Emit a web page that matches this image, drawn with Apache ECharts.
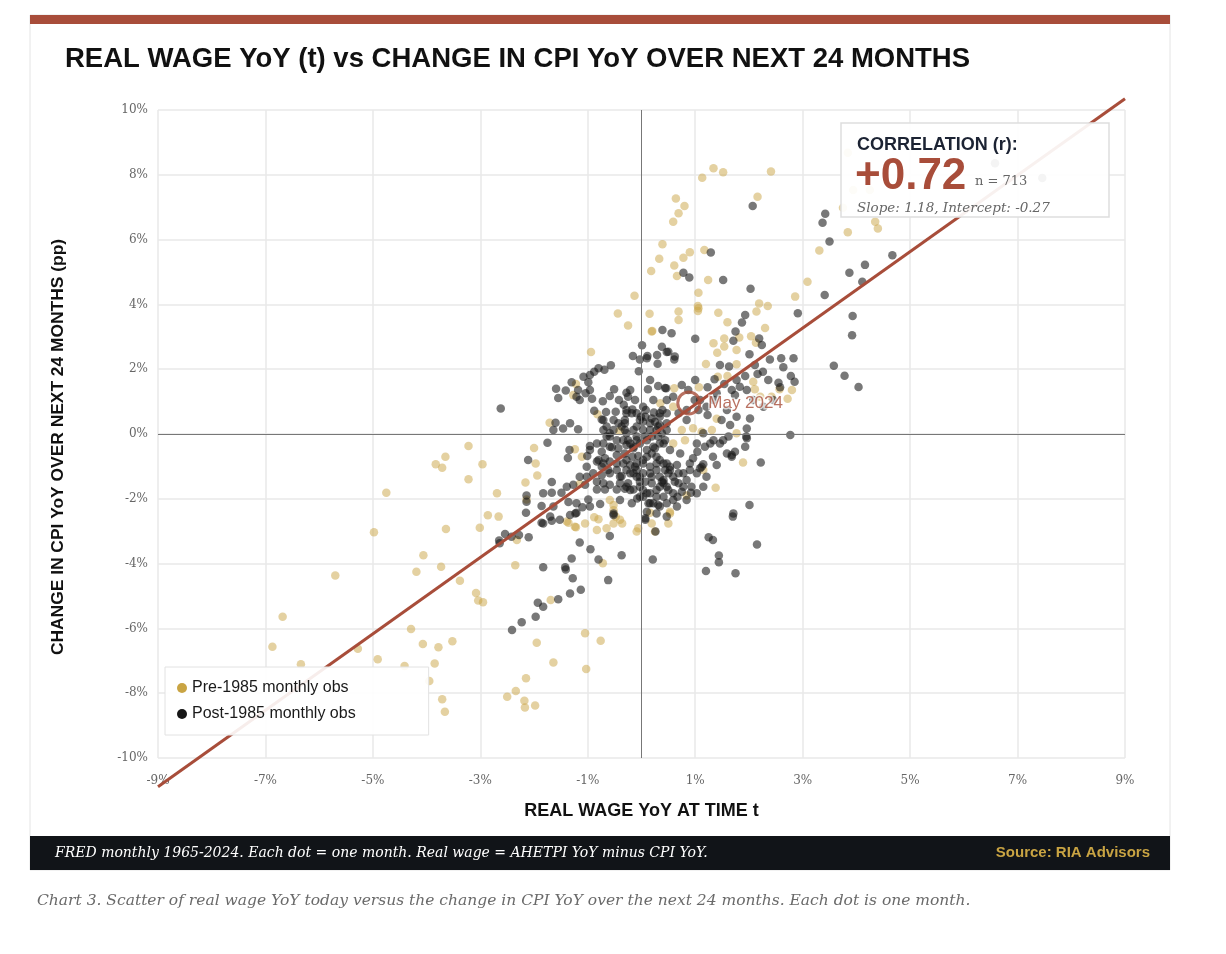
<!DOCTYPE html>
<html lang="en">

<head>
  <meta charset="UTF-8">
  <title>Real wage YoY vs change in CPI YoY</title>
  <script src="https://cdn.jsdelivr.net/npm/echarts@6/dist/echarts.min.js"></script>
  <style>
    html, body { margin: 0; padding: 0; background: #fff; }
    #main { width: 1226px; height: 954px; }
  </style>
</head>

<body>
  <div id="main"></div>
  <script type="text/javascript">
    // real wage YoY at t (x) and change in CPI YoY over next 24m (y)
    var preX = [-3.22, -3.65, -3.83, -3.71, -2.96, -3.22, -2.00, -1.97, -1.94, -2.16,
      -4.75, -2.69, -2.14, -2.86, -2.66, -3.01, -3.64, -4.98, -2.32, -4.06,
      -2.35, -4.19, -3.73, -3.38, -5.70, -3.08, -3.04, -2.95, -6.68, -4.29,
      -6.87, -1.95, -3.52, -4.07, -3.78, -5.28, -4.91, -3.85, -4.41, -6.34,
      -3.95, -2.15, -3.71, -3.66, -2.50, -2.34, -2.18, -2.17, -1.98, -1.71,
      -0.94, 0.19, 0.35, -1.22, -1.27, -1.24, -1.15, -0.59, -0.88, -0.80,
      -1.05, -1.22, -1.39, -0.83, -0.65, -0.52, -0.48, -0.40, -0.36, -0.52,
      -0.09, -0.06, 0.16, 0.19, 0.25, -0.72, -0.41, -1.11, -0.82, 0.15,
      -0.25, 0.20, 0.69, 0.69, 1.05, 1.05, 1.43, 1.60, 1.34, 1.54,
      1.54, 1.41, 1.77, 2.04, 2.13, 2.19, 2.14, 2.35, 2.30, 1.82,
      1.20, 1.77, 1.42, 1.60, 2.08, 2.11, 2.57, 2.80, 2.72, 2.42,
      2.21, 0.61, 0.59, 1.07, 1.40, 0.96, 1.12, 1.31, 0.75, 0.81,
      0.59, 1.77, 1.89, 1.38, 1.15, 0.53, 0.84, -1.05, -0.76, -1.64,
      -1.03, -1.69, -0.52, 0.50, 0.53, -1.24, -1.36, 1.34, 1.52, 1.13,
      2.41, 0.64, 0.80, 0.69, 0.59, 2.16, 0.39, 1.17, 0.90, 0.78,
      0.33, 0.61, 0.18, 0.66, 1.24, 1.06, -0.13, -0.44, 1.06, 2.86,
      3.09, 3.31, 3.84, 4.35, 4.40, 3.84, 4.25, 3.94, 3.75];
    var preY = [-0.37, -0.70, -0.93, -1.04, -0.93, -1.40, -0.43, -0.91, -1.28, -1.50,
      -1.81, -1.83, -2.02, -2.51, -2.55, -2.89, -2.93, -3.03, -3.27, -3.74,
      -4.05, -4.25, -4.10, -4.53, -4.37, -4.91, -5.14, -5.19, -5.64, -6.02,
      -6.57, -6.44, -6.40, -6.48, -6.58, -6.63, -6.95, -7.08, -7.16, -7.11,
      -7.62, -7.54, -8.19, -8.57, -8.11, -7.93, -8.23, -8.44, -8.38, 0.35,
      2.53, 3.16, 0.95, 1.54, 1.20, -0.47, -1.54, -2.04, -2.57, -2.63,
      -2.76, -2.88, -2.70, -2.96, -2.91, -2.19, -2.55, -2.65, -2.76, -2.76,
      -3.01, -2.91, -2.43, -2.76, -3.01, -3.99, 0.09, -0.70, 0.61, 3.71,
      3.35, 3.18, 3.78, 3.52, 3.95, 3.80, 3.74, 3.45, 2.80, 2.95,
      2.70, 2.51, 2.59, 3.02, 2.82, 4.03, 3.78, 3.95, 3.27, 2.98,
      2.16, 2.15, 1.77, 1.79, 1.61, 1.38, 1.38, 1.36, 1.09, 1.15,
      1.15, 1.41, 0.84, 1.44, 0.47, 0.18, 0.07, 0.12, 0.12, -0.19,
      -0.29, 0.02, -0.88, -1.66, -1.11, -2.45, -1.90, -6.15, -6.38, -7.05,
      -7.25, -5.12, -2.35, -2.76, -2.40, -2.86, -2.74, 8.20, 8.08, 7.91,
      8.10, 7.27, 7.04, 6.81, 6.55, 7.32, 5.86, 5.68, 5.61, 5.44,
      5.41, 5.20, 5.03, 4.88, 4.75, 4.36, 4.27, 3.72, 3.88, 4.24,
      4.70, 5.66, 6.23, 6.55, 6.34, 8.68, 7.53, 7.53, 6.98];

    var postX = [-2.62, 0.01, -0.16, -0.03, 0.11, 0.38, 0.29, 0.47, 0.30, -0.05,
      -0.57, -0.69, -0.80, -0.88, -0.96, -0.99, -1.30, -1.59, -1.55, -1.41,
      -1.15, -1.04, -0.92, -1.18, -0.51, -0.59, -0.72, -0.42, -0.21, -0.28,
      0.16, 0.12, 0.44, 0.39, -0.88, -0.66, -0.48, -0.33, -0.17, -0.01,
      0.08, 0.23, 0.03, 0.25, 0.34, 0.47, -1.60, -1.64, -1.46, -1.33,
      -1.18, -0.74, -0.65, -0.65, -0.52, -0.43, -0.31, -0.31, -0.15, -0.09,
      -0.25, -0.55, -0.74, -0.83, -0.96, -1.75, -1.34, -1.37, -1.01, -0.80,
      -0.68, -0.46, -0.31, -0.17, -0.06, 0.10, 0.25, 0.41, 0.28, 0.44,
      0.38, 0.19, -0.03, -0.15, -0.37, -0.59, -0.74, -1.02, -2.11, -1.67,
      -1.83, -1.67, -1.49, -1.39, -1.27, -1.05, -0.83, -0.68, -0.46, -0.31,
      -0.15, -2.14, -1.86, -1.64, -1.36, -1.21, -0.99, -0.77, -0.40, 0.03,
      0.16, 0.31, -2.15, -1.70, -1.52, -1.33, -1.21, -1.86, -1.67, -0.52,
      0.07, -2.54, -2.42, -2.10, -2.64, -1.15, -0.95, -0.59, -0.80, -0.37,
      0.21, -1.30, -1.83, -1.42, 1.93, 1.87, 1.75, 1.71, 2.19, 2.24,
      2.91, 1.00, 0.39, 0.56, 0.50, 0.61, 0.10, 0.31, 0.46, 0.75,
      0.87, 0.99, 0.84, 1.06, 1.23, 1.23, 1.36, 1.46, 1.63, 1.54,
      1.68, 1.83, 1.93, 2.01, 2.11, 2.26, 2.16, 2.39, 2.60, 2.64,
      2.83, 2.78, 2.85, 2.36, 2.55, 2.58, 1.74, 1.77, 1.59, 1.49,
      1.65, 1.96, 1.95, 1.93, 2.77, 2.22, 1.74, 1.59, 1.62, 1.46,
      1.34, 1.18, 1.04, 1.33, 1.40, 1.15, 0.96, 1.09, 0.90, 0.69,
      0.62, 0.53, 0.41, 0.19, 0.28, 0.16, 0.84, 0.93, 0.75, 0.59,
      0.41, 0.22, 0.92, 2.01, 1.71, 0.07, -0.03, -0.15, -0.28, -0.31,
      -0.18, -0.03, 0.16, 0.31, 0.47, 0.34, 0.03, -0.25, -0.12, 0.84,
      0.03, -0.12, -0.28, -0.21, -0.03, -0.03, -0.21, 0.10, 0.13, 0.34,
      0.59, 0.28, 1.70, 1.25, 1.33, 2.15, 1.44, 1.44, 1.20, 1.75,
      -0.62, -1.28, -1.41, -1.13, -1.33, -1.55, 0.26, 0.07, 0.10, 0.47,
      -0.52, -0.96, -1.10, -1.23, -0.08, 0.67, 0.69, 1.68, 1.96, 2.07,
      3.42, 3.37, 3.50, 1.29, 0.78, 0.89, 1.52, 2.03, 4.67, 4.16,
      3.87, 4.11, 3.41, 3.93, 3.92, 3.58, 3.78, 4.04, 0.62, -1.08,
      -1.21, -0.96, 2.02, -2.14, -1.83, -2.65, -2.28, -1.93, -1.83, -1.97,
      -2.23, -2.41, 6.58, 7.46,
      // dense core, second pass
      -0.71, -0.59, -0.46, -0.71, -0.59, -0.43, -0.28, -0.15, 0.10, 0.19,
      0.31, 0.44, 0.16, 0.28, 0.38, 0.03, -0.09, -0.37, -0.52, -0.28,
      -0.09, 0.07, 0.19, 0.34, 0.47, -0.83, -0.71, -0.59, -0.46, -0.34,
      -0.21, -0.09, 0.03, 0.16, 0.41, 0.50, 0.34, 0.19, 0.03, -0.09,
      -0.28, -0.46, -0.62, -0.74, -0.90, -1.02, -1.15, 0.41, 0.50, 0.28,
      0.16, 0.03, -0.25, -0.40, -0.59, -0.71, -0.83, -0.34, -0.21, -0.09,
      0.10, 0.22, 0.34, 0.53, 0.72, 0.28, 0.47, 0.66, 0.78, 1.03,
      1.21, 1.15, 1.03, 0.84, 0.66, 0.47, 0.28, -0.03, -0.18, -0.28,
      0.47, 0.34, 0.07, -0.28, 0.22, 0.47, 0.59, 0.69, 1.09, 1.21,
      1.34, 1.40, 1.00, 1.77, 1.96, 2.08, 2.27, 2.45, -0.71, -0.59,
      -0.96, -0.40, -0.09, 0.34, 0.53, 0.59, 0.78, 1.03, 1.15, 1.28,
      1.52, 1.68, 0.90, 1.12];
    var postY = [0.79, 2.74, 2.41, 2.30, 2.41, 2.69, 2.44, 2.53, 2.17, 1.94,
      2.12, 1.98, 2.03, 1.92, 1.82, 1.60, 1.60, 1.40, 1.11, 1.34,
      1.05, 1.26, 1.09, 1.36, 1.38, 1.17, 1.01, 1.05, 1.36, 1.27,
      1.67, 1.38, 1.42, 0.74, 0.72, 0.68, 0.69, 0.90, 0.76, 0.53,
      0.74, 0.66, 0.38, 0.38, 0.28, 0.12, 0.35, 0.12, 0.17, 0.33,
      0.15, 0.45, 0.23, -0.08, 0.12, 0.33, 0.12, 0.43, 0.12, -0.19,
      -0.19, -0.41, -0.55, -0.29, -0.37, -0.27, -0.49, -0.74, -0.68, -0.80,
      -0.75, -0.65, -0.60, -0.70, -0.68, -0.70, -0.44, -0.29, -0.91, -1.11,
      -1.47, -1.52, -1.47, -1.21, -1.30, -1.21, -1.01, -1.01, -0.80, -1.48,
      -1.83, -1.81, -1.81, -1.63, -1.57, -1.57, -1.71, -1.71, -1.71, -1.69,
      -1.71, -1.90, -2.22, -2.24, -2.10, -2.14, -2.02, -2.16, -2.04, -1.94,
      -2.14, -2.19, -2.43, -2.55, -2.65, -2.50, -2.43, -2.74, -2.68, -2.45,
      -2.65, -3.09, -3.17, -3.19, -3.37, -3.35, -3.56, -3.15, -3.87, -3.74,
      -3.87, -3.84, -4.11, -4.11, 3.67, 3.44, 3.16, 2.88, 2.95, 2.75,
      3.73, 2.94, 3.21, 3.11, 2.54, 2.30, 2.34, 1.48, 1.41, 1.51,
      1.36, 1.05, 0.74, 0.74, 0.59, 1.44, 1.69, 2.13, 2.08, 1.54,
      1.36, 1.46, 1.79, 2.46, 2.13, 1.92, 1.85, 2.30, 2.34, 2.06,
      2.34, 1.79, 1.61, 1.67, 1.58, 1.44, 1.20, 0.53, 0.74, 0.43,
      0.28, 0.17, -0.08, -0.39, -0.03, -0.88, -0.55, -0.60, -0.08, -0.29,
      -0.19, -0.39, -0.55, -0.70, -0.96, -0.93, -0.75, -1.06, -1.11, -1.21,
      -1.47, -1.11, -1.42, -0.60, -1.11, -1.21, -1.42, -1.63, -1.78, -1.83,
      -1.94, -2.14, -1.81, -2.19, -2.45, -0.08, -0.29, -0.44, 0.02, 0.33,
      0.64, 0.43, 0.33, 0.23, 0.33, 0.64, 0.84, 1.15, 1.05, 0.43,
      -0.80, -1.01, -0.80, -1.21, -1.32, -1.63, -1.73, -1.83, -2.14, -2.24,
      -2.04, -2.45, -2.55, -3.19, -3.27, -3.41, -3.75, -3.96, -4.23, -4.30,
      -4.51, -4.45, -4.18, -4.81, -4.92, -5.10, -3.01, -2.60, -2.40, -2.55,
      -2.50, -2.24, -2.26, -2.45, -1.99, -1.94, -1.52, -0.70, -0.13, 7.04,
      6.80, 6.52, 5.94, 5.60, 4.98, 4.83, 4.75, 4.48, 5.52, 5.22,
      4.98, 4.70, 4.29, 3.64, 3.05, 2.11, 1.80, 1.45, 2.39, 1.77,
      1.15, 1.36, 0.48, -2.09, -2.76, -3.29, -3.12, -5.21, -5.33, -5.64,
      -5.81, -6.05, 8.36, 7.90,
      // dense core, second pass
      0.12, -0.08, -0.19, -0.29, -0.39, -0.44, -0.34, -0.39, -0.19, -0.08,
      -0.08, -0.19, 0.12, 0.12, 0.02, 0.12, 0.23, 0.23, 0.43, 0.64,
      0.64, 0.53, 0.48, 0.53, 0.64, -0.85, -0.91, -0.85, -0.91, -0.91,
      -0.96, -0.91, -0.91, -1.01, -0.91, -1.21, -1.32, -1.32, -1.21, -1.32,
      -1.11, -1.11, -1.11, -1.27, -1.21, -1.32, -1.32, -1.52, -1.73, -1.73,
      -1.83, -1.73, -1.52, -1.52, -1.57, -1.52, -1.47, -0.19, -0.29, -0.08,
      -0.49, -0.39, -0.29, -0.49, -0.60, -0.70, -0.91, -0.96, -1.21, -1.21,
      -1.32, -1.63, -1.83, -2.04, -2.24, -2.14, -1.94, -1.94, -2.14, -1.63,
      -1.63, -1.63, -1.47, 0.74, 1.05, 1.05, 1.15, 0.64, 1.05, 0.84,
      1.05, 1.26, 1.67, 1.67, 1.36, 1.05, 0.84, 1.05, 0.43, 0.02,
      -0.49, -1.32, -1.11, -0.80, -1.01, -1.32, -1.63, -0.29, 0.02, -0.29,
      -0.19, -0.65, -0.91, -1.01];

    // latest observation highlighted on the chart
    var latestLabel = 'May 2024';
    var latestX = 0.88;
    var latestY = 0.96;

    // OLS fit printed in the box
    var fitR = '+0.72';
    var fitN = 713;
    var fitSlope = 1.18;
    var fitIntercept = -0.27;
    var fitFrom = -9;
    var fitTo = 9;

    var xMin = -9, xMax = 9, xStep = 2;
    var yMin = -10, yMax = 10, yStep = 2;

    var SANS = '"Liberation Sans", Arial, sans-serif';
    var SERIF = '"DejaVu Serif", Georgia, serif';
    var BRICK = '#a84d3a';
    var GOLD = '#c9a443';
    var INK = '#161616';

    function pairs(xs, ys) {
      return xs.map(function (x, i) { return [x, ys[i]]; });
    }

    var fitData = [fitFrom, fitTo].map(function (x) {
      return [x, fitSlope * x + fitIntercept];
    });

    var myChart = echarts.init(document.getElementById('main'), null, { renderer: 'canvas' });

    var option = {
      animation: false,
      backgroundColor: '#fff',
      title: {
        text: 'REAL WAGE YoY (t) vs CHANGE IN CPI YoY OVER NEXT 24 MONTHS',
        left: 60,
        top: 40,
        textStyle: { fontFamily: SANS, fontSize: 27.5, fontWeight: 'bold', color: '#111' }
      },
      grid: { left: 158, right: 101, top: 110, bottom: 196, outerBoundsMode: 'none' },
      legend: {
        data: ['Pre-1985 monthly obs', 'Post-1985 monthly obs'],
        orient: 'vertical',
        left: 165,
        top: 667,
        itemWidth: 10,
        itemHeight: 10,
        itemGap: 10,
        padding: [13, 73, 13, 12],
        backgroundColor: 'rgba(255,255,255,0.9)',
        borderColor: '#e2e2e2',
        borderWidth: 1,
        itemStyle: { opacity: 1 },
        textStyle: { fontFamily: SANS, fontSize: 16, color: '#1a1a1a' }
      },
      xAxis: {
        type: 'value',
        min: xMin,
        max: xMax,
        interval: xStep,
        name: 'REAL WAGE YoY AT TIME t',
        nameLocation: 'middle',
        nameGap: 44,
        nameTextStyle: { fontFamily: SANS, fontSize: 18, fontWeight: 'bold', color: '#111' },
        axisLine: { show: false },
        axisTick: { show: false },
        axisLabel: {
          margin: 17,
          fontFamily: SERIF,
          fontSize: 12,
          color: '#666',
          formatter: function (v) { return v + '%'; }
        },
        splitLine: { lineStyle: { color: '#e8e8e8', width: 1.5 } }
      },
      yAxis: {
        type: 'value',
        min: yMin,
        max: yMax,
        interval: yStep,
        name: 'CHANGE IN CPI YoY OVER NEXT 24 MONTHS (pp)',
        nameLocation: 'middle',
        nameGap: 91,
        nameTextStyle: { fontFamily: SANS, fontSize: 17.4, fontWeight: 'bold', color: '#111', padding: [0, 26, 0, 0] },
        axisLine: { show: false },
        axisTick: { show: false },
        axisLabel: {
          margin: 10,
          fontFamily: SERIF,
          fontSize: 12,
          color: '#666',
          formatter: function (v) { return v + '%'; }
        },
        splitLine: { lineStyle: { color: '#e8e8e8', width: 1.5 } }
      },
      series: [{
        name: 'Pre-1985 monthly obs',
        type: 'scatter',
        symbolSize: 8.5,
        data: pairs(preX, preY),
        itemStyle: { color: GOLD, opacity: 0.5 },
        markLine: {
          silent: true,
          symbol: ['none', 'none'],
          label: { show: false },
          lineStyle: { color: '#777', width: 1, type: 'solid' },
          data: [{ xAxis: 0 }, { yAxis: 0 }]
        }
      }, {
        name: 'Post-1985 monthly obs',
        type: 'scatter',
        symbolSize: 8.5,
        data: pairs(postX, postY),
        itemStyle: { color: INK, opacity: 0.58 }
      }, {
        name: 'fit',
        type: 'line',
        data: fitData,
        clip: false,
        symbol: 'none',
        silent: true,
        lineStyle: { color: BRICK, width: 3 }
      }, {
        name: 'latest',
        type: 'scatter',
        data: [[latestX, latestY]],
        symbol: 'circle',
        symbolSize: 22,
        itemStyle: { color: 'rgba(0,0,0,0)', borderColor: BRICK, borderWidth: 3 },
        label: {
          show: true,
          position: 'right',
          distance: 7,
          formatter: latestLabel,
          fontFamily: SANS,
          fontSize: 17,
          color: BRICK,
          textBorderColor: 'rgba(255,255,255,0.85)',
          textBorderWidth: 3
        },
        z: 5
      }],
      graphic: [
        // card, top rule, footer
        { type: 'rect', z: -10, shape: { x: 30, y: 15, width: 1140, height: 855 }, style: { fill: '#fff', stroke: '#e4e4e4', lineWidth: 1 } },
        { type: 'rect', z: 10, shape: { x: 30, y: 15, width: 1140, height: 9 }, style: { fill: BRICK } },
        { type: 'rect', z: 10, shape: { x: 30, y: 836, width: 1140, height: 34 }, style: { fill: '#111418' } },
        {
          type: 'text', z: 11, x: 55, y: 853,
          style: {
            text: 'FRED monthly 1965-2024. Each dot = one month. Real wage = AHETPI YoY minus CPI YoY.',
            fill: '#fff', font: 'italic 14px ' + SERIF, textVerticalAlign: 'middle'
          }
        },
        {
          type: 'text', z: 11, x: 1150, y: 853,
          style: {
            text: 'Source: RIA Advisors',
            fill: '#c9a443', font: 'bold 15px ' + SANS, textAlign: 'right', textVerticalAlign: 'middle'
          }
        },
        {
          type: 'text', z: 11, x: 37, y: 901,
          style: {
            text: 'Chart 3. Scatter of real wage YoY today versus the change in CPI YoY over the next 24 months. Each dot is one month.',
            fill: '#6a6a6a', font: 'italic 15.5px ' + SERIF, textVerticalAlign: 'middle'
          }
        },
        // correlation box
        { type: 'rect', z: 20, shape: { x: 841, y: 123, width: 268, height: 94 }, style: { fill: 'rgba(255,255,255,0.92)', stroke: '#dedede', lineWidth: 1.5 } },
        { type: 'text', z: 21, x: 857, y: 145, style: { text: 'CORRELATION (r):', fill: '#1c2333', font: 'bold 18px ' + SANS, textVerticalAlign: 'middle' } },
        { type: 'text', z: 21, x: 855, y: 177, style: { text: fitR, fill: BRICK, font: 'bold 44px ' + SANS, textVerticalAlign: 'middle' } },
        { type: 'text', z: 21, x: 975, y: 182, style: { text: 'n = ' + fitN, fill: '#666', font: '13px ' + SERIF, textVerticalAlign: 'middle' } },
        { type: 'text', z: 21, x: 857, y: 208, style: { text: 'Slope: ' + fitSlope + ', Intercept: ' + fitIntercept, fill: '#666', font: 'italic 13.5px ' + SERIF, textVerticalAlign: 'middle' } }
      ]
    };

    myChart.setOption(option);

    window.onresize = function () {
      myChart.resize();
    };
  </script>
</body>

</html>
